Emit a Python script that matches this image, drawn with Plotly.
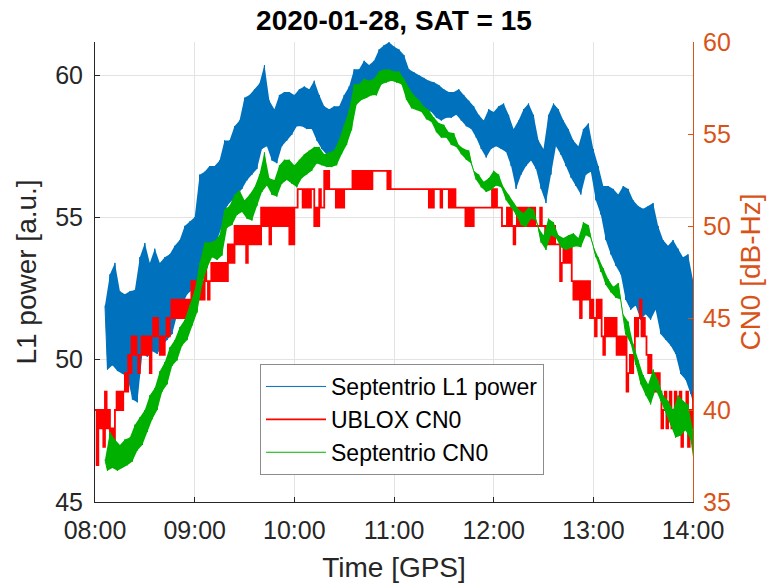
import pandas as pd
import plotly.graph_objects as go

# ---------------------------------------------------------------------------
# Satellite 15 pass, 2020-01-28.  Sample times are minutes after 08:00 GPS.
# ---------------------------------------------------------------------------
DAY_START = pd.Timestamp("2020-01-28 08:00:00")

# Septentrio L1 power [a.u.]: samples every 1.5 min starting 08:06,
# alternating between the upper and lower excursions of the noisy signal.
L1_T0, L1_STEP = 6.0, 1.5
l1_power = [
    51.9, 49.65, 53.0, 49.8, 53.4, 49.6, 52.4, 49.5, 52.3, 49.4,
    52.4, 48.6, 52.45, 48.5, 53.6, 50.2, 54.1, 50.1, 53.4, 50.3,
    53.9, 50.2, 53.4, 50.5, 53.6, 50.7, 53.7, 50.9, 54.0, 51.6,
    54.2, 51.9, 54.7, 52.3, 54.85, 52.45, 55.0, 52.6, 56.5, 53.2,
    56.6, 53.7, 56.8, 54.0, 56.8, 54.2, 57.0, 54.7, 57.7, 55.4,
    57.7, 55.6, 58.2, 55.8, 58.4, 56.0, 59.2, 56.3, 59.3, 56.5,
    59.5, 56.7, 59.7, 57.4, 60.35, 57.5, 59.1, 57.0, 58.8, 56.9,
    59.3, 57.5, 59.4, 57.7, 59.4, 57.9, 59.3, 58.2, 59.5, 58.2,
    59.6, 58.1, 59.5, 58.1, 59.8, 57.7, 59.3, 57.4, 58.9, 57.2,
    58.8, 57.0, 58.9, 57.1, 58.9, 57.4, 59.3, 57.7, 59.6, 58.6,
    60.2, 59.1, 60.2, 59.3, 60.5, 59.4, 60.35, 59.5, 60.5, 59.4,
    60.9, 59.75, 61.05, 59.9, 61.15, 60.0, 61.0, 59.96, 60.9, 59.9,
    60.7, 59.6, 60.2, 59.3, 60.1, 59.1, 60.0, 58.9, 59.9, 58.8,
    59.8, 58.7, 59.75, 58.5, 59.65, 58.4, 59.5, 58.5, 59.4, 58.5,
    59.4, 58.6, 59.5, 58.4, 59.3, 58.2, 59.1, 58.1, 58.9, 57.8,
    58.6, 57.4, 58.4, 57.1, 58.8, 57.4, 58.7, 57.5, 58.9, 57.4,
    59.0, 57.3, 58.6, 56.8, 58.1, 56.0, 58.4, 56.5, 58.8, 56.8,
    59.0, 57.0, 58.6, 56.7, 57.7, 56.0, 57.4, 55.5, 58.6, 56.5,
    59.0, 57.5, 58.8, 57.2, 58.4, 56.8, 58.1, 56.4, 57.7, 56.1,
    57.5, 55.8, 58.1, 56.5, 58.3, 56.6, 57.4, 55.6, 56.8, 55.1,
    56.1, 54.2, 56.1, 53.7, 56.0, 53.3, 55.8, 53.0, 56.1, 52.1,
    56.0, 51.75, 55.6, 51.9, 55.4, 51.4, 55.3, 51.6, 55.4, 51.4,
    55.5, 51.75, 54.7, 50.9, 54.2, 50.7, 54.0, 50.5, 54.2, 50.2,
    53.9, 49.5, 53.6, 49.3, 53.7, 48.8, 52.8, 48.2,
]

# Septentrio CN0 [dB-Hz], same sampling as the L1 power.
SEPT_T0, SEPT_STEP = 6.0, 1.5
sept_cn0 = [
    37.3, 36.7, 38.8, 36.85, 38.4, 36.7, 38.1, 36.85, 38.4, 37.0,
    38.5, 37.2, 39.2, 37.8, 39.6, 38.1, 40.0, 38.8, 40.8, 39.5,
    41.2, 40.0, 42.1, 41.0, 42.6, 41.4, 43.4, 42.4, 43.8, 42.7,
    44.5, 43.5, 44.9, 43.8, 45.7, 44.6, 46.5, 45.3, 48.0, 46.8,
    49.1, 47.7, 49.1, 48.3, 49.2, 48.15, 49.5, 48.4, 50.9, 49.9,
    51.1, 50.05, 51.7, 50.6, 51.95, 50.76, 51.4, 50.4, 51.7, 50.3,
    52.1, 51.1, 52.8, 51.85, 54.0, 52.2, 52.6, 51.7, 52.5, 51.6,
    53.3, 52.3, 53.6, 52.5, 53.6, 52.3, 53.3, 52.1, 53.6, 52.6,
    53.9, 52.8, 54.1, 53.0, 54.3, 53.4, 54.3, 53.3, 53.9, 53.2,
    54.0, 53.2, 54.1, 53.3, 54.7, 53.9, 55.5, 54.4, 56.3, 55.2,
    57.7, 56.6, 57.7, 56.85, 58.0, 56.96, 57.9, 57.1, 58.0, 57.1,
    58.4, 57.7, 58.5, 57.8, 58.5, 57.9, 58.4, 57.8, 58.4, 57.7,
    58.0, 56.85, 57.5, 56.4, 57.1, 56.3, 56.85, 56.2, 56.5, 55.8,
    56.3, 55.65, 55.9, 55.1, 55.6, 54.8, 55.5, 54.8, 55.1, 54.4,
    55.05, 54.3, 54.4, 53.9, 54.2, 53.6, 54.1, 53.4, 53.0, 52.5,
    52.8, 52.1, 52.4, 51.85, 52.6, 51.96, 53.0, 52.2, 52.8, 52.1,
    52.1, 51.4, 51.7, 51.0, 51.25, 50.6, 50.9, 50.05, 50.7, 49.95,
    51.0, 50.4, 50.9, 50.3, 49.9, 49.1, 49.5, 48.7, 50.4, 49.5,
    50.2, 49.35, 49.5, 48.85, 49.35, 48.7, 49.5, 48.8, 49.6, 48.9,
    49.35, 48.85, 50.2, 49.5, 50.05, 49.35, 48.9, 48.3, 48.3, 47.5,
    47.7, 46.8, 47.1, 46.4, 46.7, 46.1, 46.9, 46.0, 45.2, 44.1,
    44.8, 43.6, 43.6, 42.45, 42.7, 41.4, 41.9, 40.8, 41.4, 40.3,
    42.2, 41.1, 41.6, 40.5, 40.8, 39.9, 40.5, 39.2, 40.0, 38.5,
    40.8, 38.6, 40.5, 38.9, 40.3, 38.4, 38.9, 36.5,
]

# u-blox CN0 [dB-Hz]: integer readings, one per minute from 08:00.
UBLOX_T0, UBLOX_STEP = 0.0, 1.0
ublox_cn0 = [
    40, 37, 40, 39, 40, 38, 41, 39, 40, 38,
    39, 38, 40, 41, 40, 41, 40, 41, 42, 41,
    43, 42, 44, 43, 44, 43, 42, 43, 44, 43,
    44, 43, 44, 42, 44, 45, 44, 45, 44, 43,
    44, 43, 44, 45, 44, 45, 46, 45, 46, 45,
    46, 45, 46, 45, 46, 45, 46, 45, 47, 46,
    47, 46, 47, 46, 47, 46, 48, 47, 46, 47,
    48, 47, 48, 47, 48, 47, 48, 47, 48, 47,
    49, 48, 49, 48, 50, 49, 50, 49, 50, 49,
    50, 48, 50, 49, 50, 49, 50, 49, 50, 49,
    51, 50, 51, 50, 51, 49, 51, 50, 51, 50,
    51, 50, 51, 50, 51, 50, 51, 49, 51, 49,
    51, 51, 52, 52, 52, 51, 52, 51, 52, 51,
    52, 52, 50, 51, 50, 52, 51, 51, 53, 52,
    53, 52, 52, 52, 52, 51, 52, 51, 52, 51,
    52, 52, 52, 52, 52, 53, 52, 53, 52, 53,
    52, 53, 52, 53, 52, 53, 52, 53, 53, 53,
    53, 53, 53, 53, 53, 53, 52, 53, 52, 52,
    52, 52, 52, 52, 52, 52, 52, 52, 52, 52,
    52, 52, 52, 52, 52, 52, 52, 52, 52, 52,
    52, 51, 52, 51, 52, 52, 52, 52, 51, 52,
    52, 52, 52, 51, 52, 51, 52, 51, 51, 51,
    51, 51, 51, 50, 51, 50, 51, 50, 51, 51,
    51, 51, 51, 51, 51, 51, 51, 51, 51, 52,
    51, 52, 51, 51, 51, 50, 50, 50, 51, 50,
    51, 50, 49, 50, 51, 50, 51, 50, 51, 50,
    51, 50, 51, 50, 51, 50, 50, 50, 51, 50,
    50, 49, 50, 49, 50, 49, 50, 49, 49, 49,
    47, 48, 49, 48, 49, 48, 49, 47, 46, 47,
    46, 47, 45, 47, 46, 47, 46, 47, 45, 46,
    45, 44, 46, 45, 46, 44, 43, 45, 44, 45,
    44, 45, 44, 45, 43, 44, 43, 44, 43, 44,
    41, 42, 43, 42, 43, 45, 44, 45, 46, 44,
    45, 44, 43, 42, 43, 42, 41, 42, 41, 42,
    41, 39, 40, 41, 39, 40, 41, 39, 40, 41,
    39, 40, 41, 38, 40, 39, 41, 38, 40, 39,
    41,
]

HOUR_TICKS = ["08:00", "09:00", "10:00", "11:00", "12:00", "13:00", "14:00"]
L1_TICKS = [45, 50, 55, 60]
CN0_TICKS = [35, 40, 45, 50, 55, 60]


def sample_times(t0, step, n):
    return [DAY_START + pd.Timedelta(minutes=t0 + step * i) for i in range(n)]


def noise_band(t0, step, values):
    """Polygon running along the upper excursions and back along the lower ones."""
    times = sample_times(t0, step, len(values))
    up_t, up_v = times[0::2], values[0::2]
    lo_t, lo_v = times[1::2], values[1::2]
    return up_t + lo_t[::-1], up_v + lo_v[::-1]


BLUE = "#0072BD"
RED = "#FF0000"
GREEN = "#00B000"
ORANGE = "#D95319"
INK = "#262626"
GRID = "#e3e3e3"
FONT = "Liberation Sans, Arial, sans-serif"

fig = go.Figure()

# L1 power: the space the noise sweeps through, then the trace itself
bx, by = noise_band(L1_T0, L1_STEP, l1_power)
fig.add_trace(go.Scatter(
    x=bx, y=by, mode="lines", fill="toself", fillcolor=BLUE,
    line=dict(width=0), showlegend=False, hoverinfo="skip", yaxis="y",
))
fig.add_trace(go.Scatter(
    x=sample_times(L1_T0, L1_STEP, len(l1_power)), y=l1_power,
    mode="lines", name="Septentrio L1 power",
    line=dict(color=BLUE, width=1), yaxis="y",
))

fig.add_trace(go.Scatter(
    x=sample_times(UBLOX_T0, UBLOX_STEP, len(ublox_cn0)), y=ublox_cn0,
    mode="lines", name="UBLOX CN0",
    line=dict(color=RED, width=1.8, shape="hv"), yaxis="y2",
))

gx, gy = noise_band(SEPT_T0, SEPT_STEP, sept_cn0)
fig.add_trace(go.Scatter(
    x=gx, y=gy, mode="lines", fill="toself", fillcolor=GREEN,
    line=dict(width=0), showlegend=False, hoverinfo="skip", yaxis="y2",
))
fig.add_trace(go.Scatter(
    x=sample_times(SEPT_T0, SEPT_STEP, len(sept_cn0)), y=sept_cn0,
    mode="lines", name="Septentrio CN0",
    line=dict(color=GREEN, width=1), yaxis="y2",
))

hour_vals = [DAY_START.normalize() + pd.Timedelta(hours=int(h[:2])) for h in HOUR_TICKS]

fig.update_layout(
    width=776, height=583,
    margin=dict(l=95, r=83, t=42, b=81),
    paper_bgcolor="white", plot_bgcolor="white",
    font=dict(family=FONT, color=INK),
    showlegend=True,
    title=dict(
        text="<b>2020-01-28, SAT = 15</b>",
        x=(95 + 693) / 2 / 776, xanchor="center",
        y=1 - 20 / 583, yanchor="middle", yref="container",
        font=dict(size=28, color="black", family=FONT),
    ),
    xaxis=dict(
        type="date", automargin=False,
        range=[hour_vals[0], hour_vals[-1]],
        tickvals=hour_vals, ticktext=HOUR_TICKS,
        ticks="inside", ticklen=5, tickcolor=INK, tickwidth=1,
        showline=True, linecolor=INK, linewidth=1, mirror=False,
        showgrid=True, gridcolor=GRID, gridwidth=1,
        zeroline=False,
        tickfont=dict(size=25, color=INK),
        ticklabelstandoff=6,
        title=dict(text="Time [GPS]", font=dict(size=28, color=INK), standoff=17),
    ),
    yaxis=dict(
        automargin=False,
        range=[45, 61.16],
        tickvals=L1_TICKS,
        ticks="inside", ticklen=5, tickcolor=INK, tickwidth=1,
        showline=True, linecolor=INK, linewidth=1, mirror=False,
        showgrid=True, gridcolor=GRID, gridwidth=1,
        zeroline=False,
        tickfont=dict(size=25, color=INK),
        ticklabelstandoff=6,
        title=dict(text="L1 power [a.u.]", font=dict(size=28, color=INK), standoff=10),
    ),
    yaxis2=dict(
        overlaying="y", side="right", anchor="x", automargin=False,
        range=[35, 60],
        tickvals=CN0_TICKS,
        ticks="inside", ticklen=5, tickcolor=ORANGE, tickwidth=1,
        showline=True, linecolor=ORANGE, linewidth=1,
        showgrid=False, zeroline=False,
        tickfont=dict(size=25, color=ORANGE),
        ticklabelstandoff=4,
        title=dict(text="CN0 [dB-Hz]", font=dict(size=28, color=ORANGE), standoff=10),
    ),
    legend=dict(
        x=(260 - 95) / 598, y=(502 - 364) / 460,
        xanchor="left", yanchor="top",
        bgcolor="white", bordercolor="#8c8c8c", borderwidth=1,
        font=dict(size=23, color="black", family=FONT),
        itemwidth=60, tracegroupgap=0,
    ),
)

fig.write_html("out.html")
